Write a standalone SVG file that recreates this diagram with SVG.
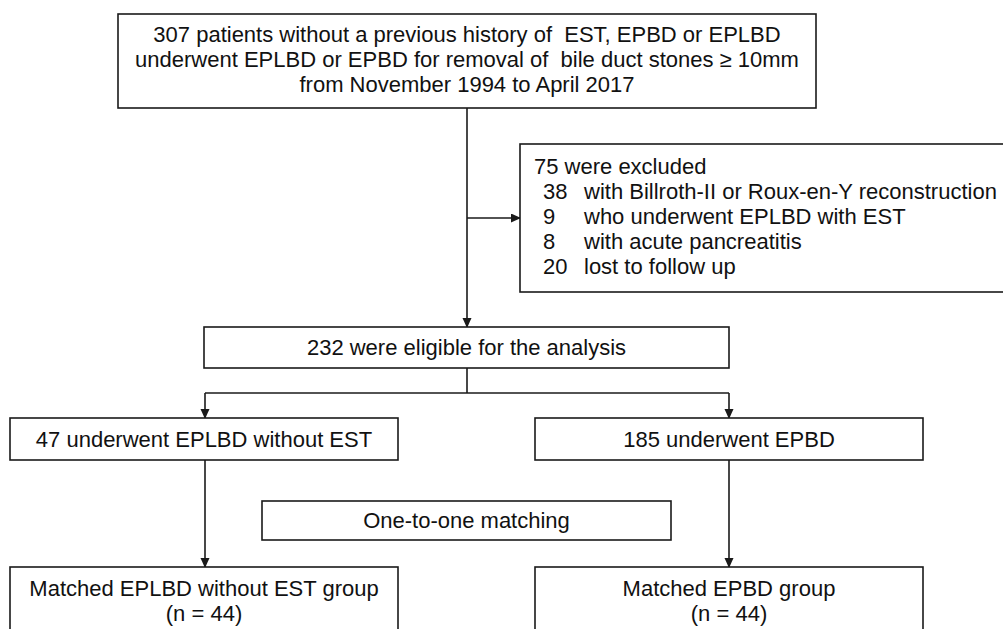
<svg xmlns="http://www.w3.org/2000/svg" width="1003" height="629" viewBox="0 0 1003 629">
<style>
.box{fill:#fff;stroke:#1a1a1a;stroke-width:1.6}
.t{font-family:"Liberation Sans",Arial,sans-serif;font-size:22px;fill:#111;white-space:pre}
.c{text-anchor:middle}
.ln{fill:none;stroke:#1a1a1a;stroke-width:1.6}
</style>
<defs>
<marker id="ah" markerUnits="userSpaceOnUse" markerWidth="10" markerHeight="11" refX="9" refY="4.5" orient="auto">
<path d="M0,0 L10,4.5 L0,9 z" fill="#1a1a1a"/>
</marker>
</defs>
<rect width="1003" height="629" fill="#fff"/>
<g id="connectors">
<line class="ln" x1="467" y1="108" x2="467" y2="327" marker-end="url(#ah)"/>
<line class="ln" x1="467" y1="218" x2="520" y2="218" marker-end="url(#ah)"/>
<polyline class="ln" points="467,368 467,393"/>
<polyline class="ln" points="205,393 729,393"/>
<line class="ln" x1="205" y1="393" x2="205" y2="418" marker-end="url(#ah)"/>
<line class="ln" x1="729" y1="393" x2="729" y2="418" marker-end="url(#ah)"/>
<line class="ln" x1="205" y1="460" x2="205" y2="567" marker-end="url(#ah)"/>
<line class="ln" x1="729" y1="460" x2="729" y2="567" marker-end="url(#ah)"/>
</g>
<g id="start">
<rect class="box" x="118" y="14" width="698" height="94"/>
<text class="t c" x="467" y="42" xml:space="preserve">307 patients without a previous history of  EST, EPBD or EPLBD</text>
<text class="t c" x="467" y="67" xml:space="preserve">underwent EPLBD or EPBD for removal of  bile duct stones ≥ 10mm</text>
<text class="t c" x="467" y="92">from November 1994 to April 2017</text>
</g>
<g id="excluded">
<rect class="box" x="520" y="144" width="500" height="148"/>
<text class="t" x="534" y="174">75 were excluded</text>
<text class="t" x="543" y="199">38</text><text class="t" x="584" y="199">with Billroth-II or Roux-en-Y reconstruction</text>
<text class="t" x="543" y="224">9</text><text class="t" x="584" y="224">who underwent EPLBD with EST</text>
<text class="t" x="543" y="249">8</text><text class="t" x="584" y="249">with acute pancreatitis</text>
<text class="t" x="543" y="274">20</text><text class="t" x="584" y="274">lost to follow up</text>
</g>
<g id="eligible">
<rect class="box" x="204" y="327" width="525" height="41"/>
<text class="t c" x="466.5" y="355">232 were eligible for the analysis</text>
</g>
<g id="eplbd">
<rect class="box" x="10" y="418" width="388" height="42"/>
<text class="t c" x="204" y="447">47 underwent EPLBD without EST</text>
</g>
<g id="epbd">
<rect class="box" x="535" y="418" width="388" height="42"/>
<text class="t c" x="729" y="447">185 underwent EPBD</text>
</g>
<g id="matching">
<rect class="box" x="262" y="501" width="409" height="39"/>
<text class="t c" x="466.5" y="528">One-to-one matching</text>
</g>
<g id="matched-eplbd">
<rect class="box" x="10" y="567" width="388" height="80"/>
<text class="t c" x="204" y="596">Matched EPLBD without EST group</text>
<text class="t c" x="204" y="621">(n = 44)</text>
</g>
<g id="matched-epbd">
<rect class="box" x="535" y="567" width="388" height="80"/>
<text class="t c" x="729" y="596">Matched EPBD group</text>
<text class="t c" x="729" y="621">(n = 44)</text>
</g>
</svg>
